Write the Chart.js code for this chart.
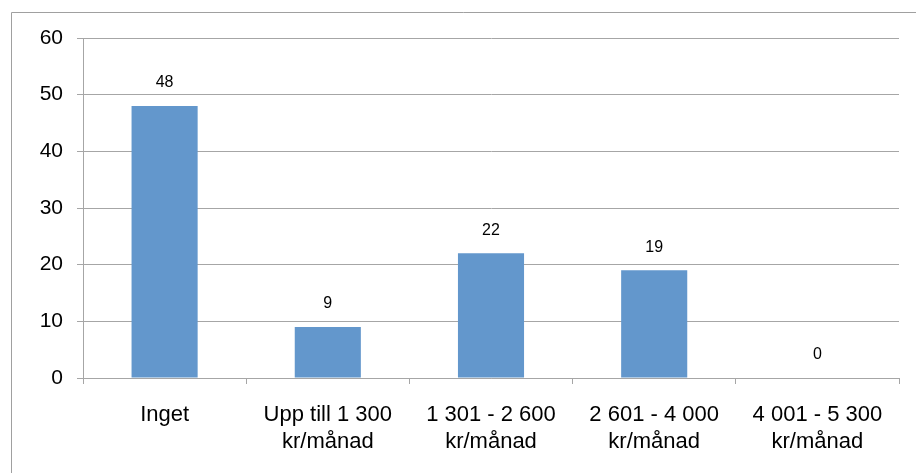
<!DOCTYPE html>
<html>
<head>
<meta charset="utf-8">
<script src="https://cdn.jsdelivr.net/npm/chart.js@4"></script>
<style>
  body { margin: 0; background: #fff; }
  #wrap { position: relative; width: 916px; height: 473px; }
</style>
</head>
<body>
<div id="wrap"><canvas id="chart" width="916" height="473"></canvas></div>
<script>
const categories = [
    'Inget',
    ['Upp till 1 300', 'kr/månad'],
    ['1 301 - 2 600', 'kr/månad'],
    ['2 601 - 4 000', 'kr/månad'],
    ['4 001 - 5 300', 'kr/månad']
];
const values = [48, 9, 22, 19, 0];
const yTicks = [0, 10, 20, 30, 40, 50, 60];

const gray = '#a6a6a6';
const font = 'Arial, "Liberation Sans", sans-serif';

// outer frame, only top and left edges are visible
const framePlugin = {
    id: 'frame',
    beforeDraw(chart) {
        const ctx = chart.ctx;
        ctx.save();
        ctx.strokeStyle = '#a0a0a0';
        ctx.lineWidth = 1;
        ctx.beginPath();
        ctx.moveTo(11.5, chart.height);
        ctx.lineTo(11.5, 12.5);
        ctx.lineTo(chart.width, 12.5);
        ctx.stroke();
        ctx.restore();
    }
};

// value labels above each bar
const valueLabels = {
    id: 'valueLabels',
    afterDatasetsDraw(chart) {
        const ctx = chart.ctx;
        const meta = chart.getDatasetMeta(0);
        ctx.save();
        ctx.fillStyle = '#000';
        ctx.font = '16px ' + font;
        ctx.textAlign = 'center';
        ctx.textBaseline = 'middle';
        meta.data.forEach((bar, i) => {
            ctx.fillText(String(values[i]), bar.x, bar.y - 23);
        });
        ctx.restore();
    }
};

new Chart(document.getElementById('chart'), {
    type: 'bar',
    data: {
        labels: categories,
        datasets: [{
            data: values,
            backgroundColor: '#6397cc',
            barPercentage: 0.405,
            categoryPercentage: 1
        }]
    },
    options: {
        responsive: false,
        animation: false,
        layout: { padding: { top: 38, right: 17, left: 0, bottom: 0 } },
        plugins: {
            legend: { display: false },
            tooltip: { enabled: false }
        },
        scales: {
            x: {
                grid: { drawOnChartArea: false, color: gray, tickLength: 6 },
                border: { color: gray },
                ticks: {
                    color: '#000',
                    font: { family: font, size: 22, lineHeight: 1.25 },
                    padding: 17,
                    autoSkip: false,
                    maxRotation: 0
                },
                afterFit(scale) { scale.height = 95; }
            },
            y: {
                min: 0,
                max: 60,
                grid: { color: gray, tickLength: 6 },
                border: { color: gray },
                afterBuildTicks(scale) { scale.ticks = yTicks.map(v => ({ value: v })); },
                ticks: {
                    color: '#000',
                    font: { family: font, size: 21 },
                    padding: 14
                },
                afterFit(scale) { scale.width = 83; }
            }
        }
    },
    plugins: [framePlugin, valueLabels]
});
</script>
</body>
</html>
